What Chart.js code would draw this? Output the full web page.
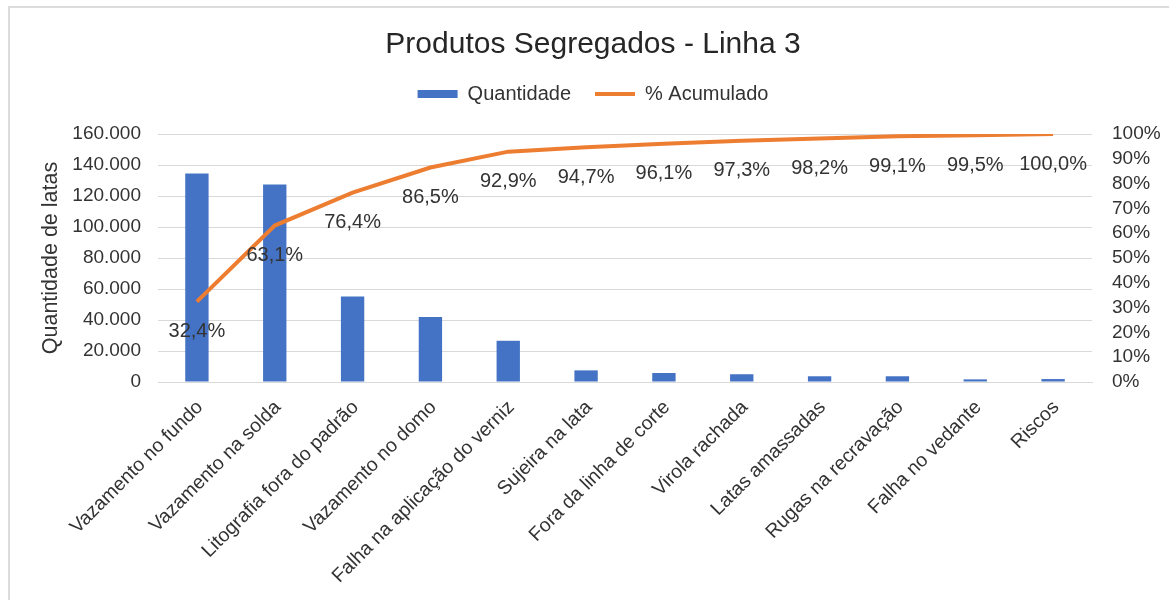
<!DOCTYPE html>
<html>
<head>
<meta charset="utf-8">
<title>Produtos Segregados - Linha 3</title>
<script src="https://cdn.jsdelivr.net/npm/chart.js@4.4.1/dist/chart.umd.min.js"></script>
<style>
    body { margin: 0; background: #fff; overflow: hidden; }
    #frame { position: absolute; left: 8px; top: 6px; width: 1300px; height: 700px;
             border-left: 2px solid #dcdcdc; border-top: 2px solid #dcdcdc; }
    #chart { position: absolute; left: 0; top: 0; }
</style>
</head>
<body>
<div id="frame"></div>
<canvas id="chart" width="1169" height="600"></canvas>
<script>
var categorias = ["Vazamento no fundo", "Vazamento na solda", "Litografia fora do padrão", "Vazamento no domo",
    "Falha na aplicação do verniz", "Sujeira na lata", "Fora da linha de corte", "Virola rachada",
    "Latas amassadas", "Rugas na recravação", "Falha no vedante", "Riscos"];
var quantidade = [134600, 127400, 55200, 41900, 26600, 7500, 5800, 5000, 3700, 3700, 1700, 1900];
var acumulado = [32.4, 63.1, 76.4, 86.5, 92.9, 94.7, 96.1, 97.3, 98.2, 99.1, 99.5, 100.0];

var textColor = "#333333";
var fontFamily = "'Liberation Sans', Arial, sans-serif";

function milhar(v){
    return String(v).replace(/\B(?=(\d{3})+(?!\d))/g, ".");
}

// labels under each point of the cumulative line
var rotulos = {
    id: "rotulos",
    afterDatasetsDraw: function(chart){
        var meta = chart.getDatasetMeta(1);
        var ctx = chart.ctx;
        ctx.save();
        ctx.font = "20px " + fontFamily;
        ctx.fillStyle = textColor;
        ctx.textAlign = "center";
        ctx.textBaseline = "middle";
        meta.data.forEach(function(pt, i){
            ctx.fillText(acumulado[i].toFixed(1).replace(".", ",") + "%", pt.x, pt.y + 30);
        });
        ctx.restore();
    }
};

document.addEventListener("DOMContentLoaded", function(){
    new Chart(document.getElementById("chart"), {
        type: "bar",
        data: {
            labels: categorias,
            datasets: [{
                label: "Quantidade",
                data: quantidade,
                backgroundColor: "#4472C4",
                borderWidth: 0,
                barPercentage: 0.3,
                categoryPercentage: 1,
                yAxisID: "y",
                order: 1
            }, {
                type: "line",
                label: "% Acumulado",
                data: acumulado,
                borderColor: "#ED7D31",
                backgroundColor: "#ED7D31",
                borderWidth: 4,
                pointRadius: 0,
                tension: 0,
                yAxisID: "y2",
                order: 0
            }]
        },
        options: {
            responsive: false,
            animation: false,
            devicePixelRatio: 1,
            layout: { padding: { left: 17, right: 0, top: 0, bottom: 0 } },
            plugins: {
                title: {
                    display: true,
                    text: "Produtos Segregados - Linha 3",
                    color: "#262626",
                    font: { family: fontFamily, size: 30, weight: "normal", lineHeight: 1 },
                    padding: { top: 30, bottom: 0 }
                },
                subtitle: {
                    // empty spacer between legend and plot area
                    display: true,
                    text: "",
                    weight: 500,
                    padding: 0,
                    font: { size: 12, lineHeight: 1.67 }
                },
                legend: {
                    position: "top",
                    labels: {
                        color: textColor,
                        font: { family: fontFamily, size: 20 },
                        usePointStyle: true,
                        pointStyleWidth: 40,
                        boxHeight: 8,
                        padding: 24,
                        sort: function(a, b){ return a.datasetIndex - b.datasetIndex; },
                        generateLabels: function(chart){
                            var items = Chart.defaults.plugins.legend.labels.generateLabels(chart);
                            items.forEach(function(it){
                                it.pointStyle = it.datasetIndex === 0 ? "rect" : "line";
                                it.lineWidth = it.datasetIndex === 0 ? 0 : 4;
                            });
                            return items;
                        }
                    }
                },
                tooltip: { enabled: false }
            },
            scales: {
                x: {
                    grid: { display: false },
                    border: { color: "#d9d9d9", width: 1 },
                    ticks: {
                        color: textColor,
                        font: { family: fontFamily, size: 19.5 },
                        minRotation: 45,
                        maxRotation: 45,
                        autoSkip: false,
                        padding: 6,
                        labelOffset: 3
                    },
                    afterFit: function(scale){ scale.height = 218; }
                },
                y: {
                    position: "left",
                    min: 0,
                    max: 160000,
                    ticks: {
                        stepSize: 20000,
                        autoSkip: false,
                        color: textColor,
                        font: { family: fontFamily, size: 19 },
                        padding: 17,
                        callback: function(value){ return milhar(value); }
                    },
                    grid: { color: "#d9d9d9", drawTicks: false },
                    border: { display: false },
                    title: {
                        display: true,
                        text: "Quantidade de latas",
                        color: textColor,
                        font: { family: fontFamily, size: 21.5 },
                        padding: { top: 21, bottom: 0 }
                    },
                    afterFit: function(scale){ scale.width = 141; }
                },
                y2: {
                    position: "right",
                    min: 0,
                    max: 100,
                    ticks: {
                        stepSize: 10,
                        autoSkip: false,
                        color: textColor,
                        font: { family: fontFamily, size: 19 },
                        padding: 20,
                        callback: function(value){ return value + "%"; }
                    },
                    grid: { drawOnChartArea: false, drawTicks: false },
                    border: { display: false },
                    afterFit: function(scale){ scale.width = 77; }
                }
            }
        },
        plugins: [rotulos]
    });
});
</script>
</body>
</html>
